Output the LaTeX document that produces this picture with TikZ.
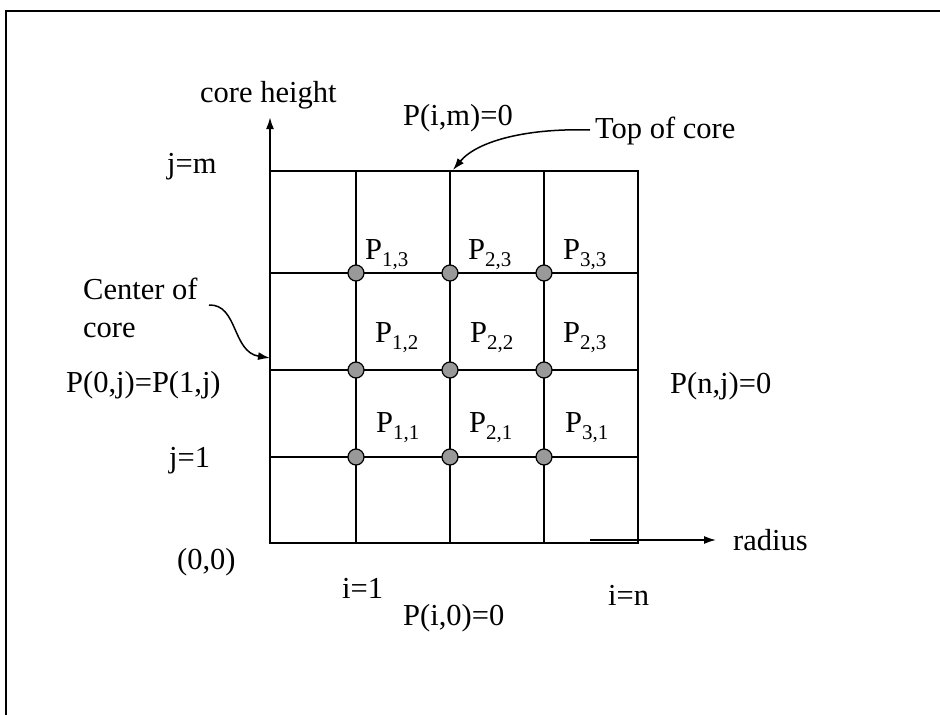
\documentclass[tikz,border=0pt]{standalone}
\usepackage{fontspec}
\setmainfont{Liberation Serif}
\usetikzlibrary{arrows.meta}
\tikzset{
  lbl/.style={anchor=base west, inner sep=0pt, font=\fontsize{30.5}{36}\selectfont},
  gridline/.style={line width=1.3pt},
  axisline/.style={line width=2pt, -{Latex[length=12pt,width=8pt]}},
  ptdot/.style={circle, draw=black, fill=black!40, line width=1.2pt, minimum size=16pt, inner sep=0pt},
  pointer/.style={line width=1.5pt, -{Latex[length=12pt,width=8pt]}},
  framel/.style={line width=1.6pt},
}
\newcommand\sbs[1]{\raisebox{-7pt}{\fontsize{21}{21}\selectfont #1}}
\begin{document}
\begin{tikzpicture}[x=1pt,y=-1pt]
\useasboundingbox (0,0) rectangle (940,715);
% frame
\draw[framel] (6,715) -- (6,11) -- (940,11);
% grid
\draw[gridline] (270,171) rectangle (638,543);
\foreach \gx in {356,450,544} \draw[gridline] (\gx,171) -- (\gx,543);
\foreach \gy in {273,370,457} \draw[gridline] (270,\gy) -- (638,\gy);
% axes
\coordinate (o) at (270,543);
\coordinate (ytop) at (270,117);
\draw[axisline] (o) -- (ytop);
\coordinate (rs) at (590,540);
\coordinate (re) at (716,540);
\draw[pointer] (rs) -- (re);
% dots
\foreach \gx/\i in {356/1,450/2,544/3}
  \foreach \gy/\j in {457/1,370/2,273/3}
    \node[ptdot] (d\i\j) at (\gx,\gy) {};
% dot labels
\node[lbl] (p13) at (365,259) {P\sbs{1,3}};
\node[lbl] (p23) at (468,259) {P\sbs{2,3}};
\node[lbl] (p33) at (563,259) {P\sbs{3,3}};
\node[lbl] (p12) at (375,342) {P\sbs{1,2}};
\node[lbl] (p22) at (470,342) {P\sbs{2,2}};
\node[lbl] (p32) at (563,342) {P\sbs{2,3}};
\node[lbl] (p11) at (376,432) {P\sbs{1,1}};
\node[lbl] (p21) at (469,432) {P\sbs{2,1}};
\node[lbl] (p31) at (565,432) {P\sbs{3,1}};
% labels
\node[lbl] (ch) at (200,102) {core height};
\node[lbl] (pim) at (403,125) {P(i,m)=0};
\node[lbl] (toc) at (595,138) {Top of core};
\node[lbl] (jm) at (167,173) {j=m};
\node[lbl] (coc1) at (83,299) {Center of};
\node[lbl] (coc2) at (83,337) {core};
\node[lbl] (p0j) at (66,392) {P(0,j)=P(1,j)};
\node[lbl] (pnj) at (670,393) {P(n,j)=0};
\node[lbl] (j1) at (169,467) {j=1};
\node[lbl] (rad) at (733,550) {radius};
\node[lbl] (zz) at (177,569) {(0,0)};
\node[lbl] (i1) at (342,598) {i=1};
\node[lbl] (in) at (608,605) {i=n};
\node[lbl] (pi0) at (403,625) {P(i,0)=0};
% pointers
\coordinate (tc1) at (590,130);
\coordinate (tc2) at (453,170);
\draw[pointer] (tc1) .. controls (530,128) and (478,140) .. (tc2);
\coordinate (cc1) at (209,305);
\coordinate (cc2) at (270,358);
\draw[pointer] (cc1) .. controls (238,304) and (232,352) .. (cc2);
\end{tikzpicture}
\end{document}
